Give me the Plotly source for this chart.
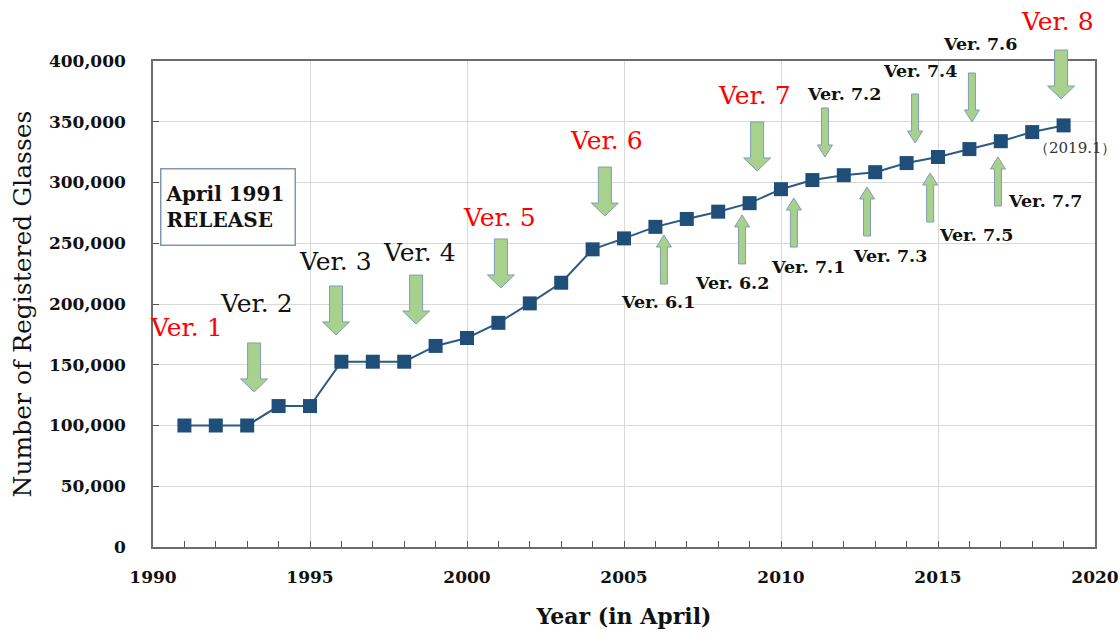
import plotly.graph_objects as go

# ---------------- data ----------------
years = list(range(1991, 2020))
glasses = [100000, 100000, 100000, 116000, 116000, 152500, 152500, 152500, 165500, 172000,
           184500, 200500, 217500, 245000, 254000, 263500, 270000, 276000, 283000, 294500,
           302000, 306000, 308500, 316000, 321000, 327500, 334000, 341500, 347000]

x_tick_vals = [1990, 1995, 2000, 2005, 2010, 2015, 2020]
y_tick_vals = [0, 50000, 100000, 150000, 200000, 250000, 300000, 350000, 400000]

# major version labels
major_text = ["Ver. 1", "Ver. 2", "Ver. 3", "Ver. 4", "Ver. 5", "Ver. 6", "Ver. 7", "Ver. 8"]
major_color = ["#ff0000", "#111111", "#111111", "#111111", "#ff0000", "#ff0000", "#ff0000", "#ff0000"]
major_lx = [1991.08, 1993.31, 1995.80, 1998.50, 2001.05, 2004.43, 2009.17, 2018.82]
major_ly = [181000, 200800, 234600, 242000, 271600, 334200, 372000, 432100]
# big down arrows (tip positions) for Ver.2 .. Ver.8
major_ax = [1993.22, 1995.83, 1998.38, 2001.08, 2004.39, 2009.24, 2018.92]
major_ay = [127600, 174500, 183500, 213200, 272400, 309500, 368700]

# minor version labels
minor_text = ["Ver. 6.1", "Ver. 6.2", "Ver. 7.1", "Ver. 7.2", "Ver. 7.3", "Ver. 7.4",
              "Ver. 7.5", "Ver. 7.6", "Ver. 7.7"]
minor_lx = [2006.08, 2008.44, 2010.86, 2012.01, 2013.47, 2014.43, 2016.21, 2016.34, 2018.41]
minor_ly = [201600, 217300, 230500, 372800, 239500, 391800, 256800, 414000, 284800]
minor_ax = [2006.27, 2008.76, 2010.41, 2011.40, 2012.74, 2014.27, 2014.75, 2016.08, 2016.91]
minor_ay = [256800, 273300, 287200, 321000, 296300, 332500, 307800, 349800, 321000]
minor_dir = ["up", "up", "up", "down", "up", "down", "up", "down", "up"]

X_RANGE = [1990, 2020]
Y_RANGE = [0, 400000]

FONT = "DejaVu Serif"
ARROW_FILL = "#a9d18e"
ARROW_LINE = "#7f9db4"


def ypaper(v):
    return (v - Y_RANGE[0]) / (Y_RANGE[1] - Y_RANGE[0])


fig = go.Figure()
fig.add_trace(go.Scatter(
    x=years, y=glasses, mode="lines+markers",
    line=dict(color="#2a5a86", width=2),
    marker=dict(symbol="square", size=14, color="#1f4e79"),
    showlegend=False, hoverinfo="x+y"))


def block_arrow(x, y, direction, shaft_hw, head_hw, head_h, length):
    s = 1 if direction == "down" else -1
    pts = [(0, 0), (-head_hw, s * head_h), (-shaft_hw, s * head_h), (-shaft_hw, s * length),
           (shaft_hw, s * length), (shaft_hw, s * head_h), (head_hw, s * head_h)]
    path = "M " + " L ".join(f"{px},{py}" for px, py in pts) + " Z"
    return dict(type="path", path=path, xref="x", yref="paper",
                xsizemode="pixel", ysizemode="pixel",
                xanchor=x, yanchor=ypaper(y),
                fillcolor=ARROW_FILL, line=dict(color=ARROW_LINE, width=1), layer="above")


shapes = []
for x, y in zip(major_ax, major_ay):
    shapes.append(block_arrow(x, y, "down", 6.5, 13.5, 13, 49))
for x, y, d in zip(minor_ax, minor_ay, minor_dir):
    shapes.append(block_arrow(x, y, d, 3.5, 7.5, 12, 49))

annotations = []
for t, c, x, y in zip(major_text, major_color, major_lx, major_ly):
    annotations.append(dict(text=t, x=x, y=ypaper(y), xref="x", yref="paper", showarrow=False,
                            font=dict(family=FONT, size=25, color=c),
                            xanchor="center", yanchor="middle"))
for t, x, y in zip(minor_text, minor_lx, minor_ly):
    annotations.append(dict(text=t, x=x, y=ypaper(y), xref="x", yref="paper", showarrow=False,
                            font=dict(family=FONT, size=17.5, color="#111111", weight="bold"),
                            xanchor="center", yanchor="middle"))
annotations.append(dict(text="（2019.1）", x=2019.39, y=ypaper(328400), xref="x", yref="paper",
                        showarrow=False, font=dict(family=FONT, size=15, color="#333333"),
                        xanchor="center", yanchor="middle"))
annotations.append(dict(text="April 1991<br>RELEASE", x=1992.40, y=ypaper(280200), xref="x",
                        yref="paper", showarrow=False, align="left", width=125, height=67,
                        borderpad=4, bordercolor="#8497b0", borderwidth=1.5, bgcolor="white",
                        font=dict(family=FONT, size=20, color="#111111", weight="bold"),
                        xanchor="center", yanchor="middle"))

fig.update_layout(
    width=1120, height=635,
    margin=dict(l=153, r=25, t=61, b=88, autoexpand=False),
    paper_bgcolor="white", plot_bgcolor="white",
    font=dict(family=FONT, color="#111111"),
    shapes=shapes, annotations=annotations,
    xaxis=dict(range=X_RANGE, tickvals=x_tick_vals, ticks="inside", ticklen=6,
               tickcolor="#555555", showline=True, linecolor="#6b6b6b", linewidth=1.5,
               mirror=True, showgrid=True, gridcolor="#d9d9d9", gridwidth=1, automargin=False,
               minor=dict(dtick=1, ticks="inside", ticklen=6, tickcolor="#555555", showgrid=False),
               tickfont=dict(family=FONT, size=17, color="#111111", weight="bold"),
               ticklabelstandoff=14, zeroline=False,
               title=dict(text="Year (in April)", standoff=22,
                          font=dict(family=FONT, size=22, color="#111111", weight="bold"))),
    yaxis=dict(range=Y_RANGE, tickvals=y_tick_vals, tickformat=",", ticks="inside", ticklen=6,
               tickcolor="#555555", showline=True, linecolor="#6b6b6b", linewidth=1.5,
               mirror=True, showgrid=True, gridcolor="#d9d9d9", gridwidth=1, automargin=False,
               tickfont=dict(family=FONT, size=17, color="#111111", weight="bold"),
               ticklabelstandoff=22, zeroline=False,
               title=dict(text="Number of Registered Glasses", standoff=10,
                          font=dict(family=FONT, size=25, color="#111111"))),
)

fig.write_html("out.html")
